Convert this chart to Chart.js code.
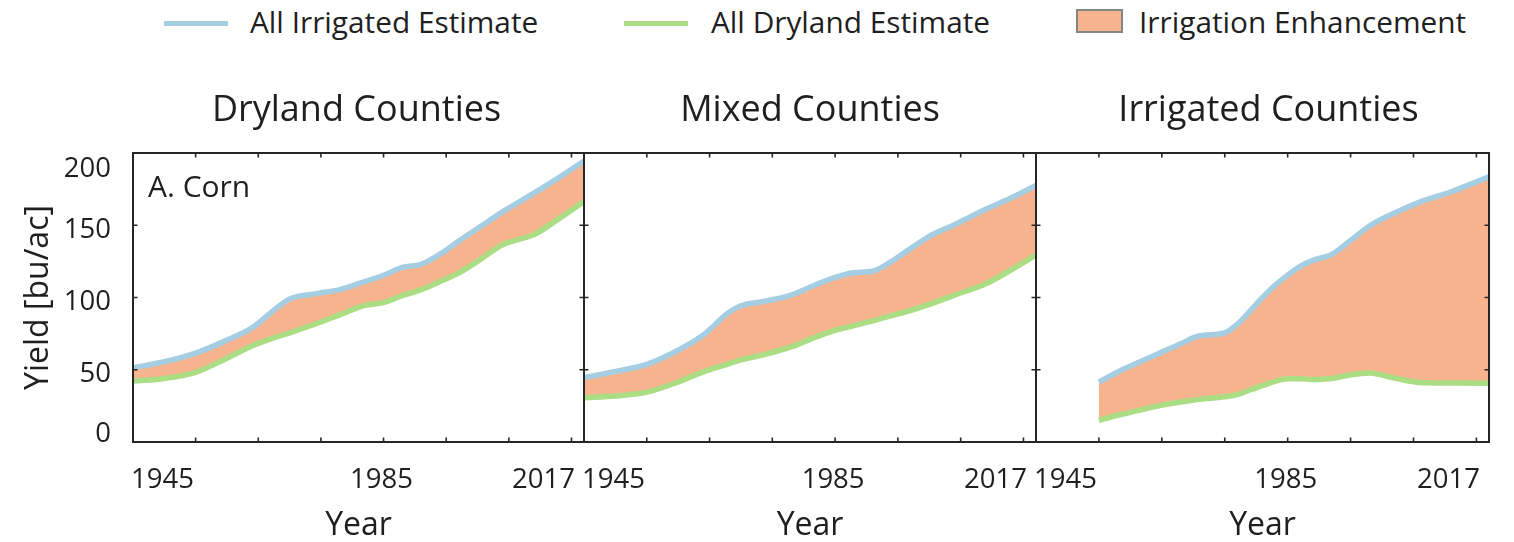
<!DOCTYPE html>
<html>
<head>
<meta charset="utf-8">
<title>Corn yield: irrigated vs dryland estimates</title>
<script src="https://cdn.jsdelivr.net/npm/chart.js@4.4.1/dist/chart.umd.min.js"></script>
<style>
  html, body { margin: 0; padding: 0; background: #fff; }
  body { width: 1514px; height: 542px; overflow: hidden; position: relative; }
  canvas { position: absolute; top: 60px; }
  .leg-text { position: absolute; top: 3px; font-family: "Open Sans", sans-serif; font-size: 29.8px; line-height: 38px; color: #1f1f1f; white-space: nowrap; }
  .leg-line { position: absolute; top: 21px; width: 64px; height: 5px; }
  .leg-box { position: absolute; top: 9px; width: 47px; height: 24px; box-sizing: border-box; border: 2px solid #858585; }
</style>
</head>
<body>
<canvas id="panel0" width="600" height="482" style="left:0px"></canvas>
<canvas id="panel1" width="500" height="482" style="left:560px"></canvas>
<canvas id="panel2" width="502" height="482" style="left:1012px"></canvas>
<script>
// ---- data -------------------------------------------------------------
const seriesNames = ['All Irrigated Estimate', 'All Dryland Estimate', 'Irrigation Enhancement'];
const panelTitles = ['Dryland Counties', 'Mixed Counties', 'Irrigated Counties'];
const cropLabel = 'A. Corn';

const xTickYears = [1945, 1955, 1965, 1975, 1985, 1995, 2005, 2015, 2017];
const xLabelYears = [1945, 1985, 2017];
const yTickValues = [0, 50, 100, 150, 200];

// Dryland counties (yield, bu/ac)
const yearsDryland = [1945, 1950, 1955, 1960, 1964, 1968, 1970, 1974, 1978, 1982, 1985, 1988, 1991, 1994, 1997, 2000, 2004, 2009, 2013, 2017];
const drylandAllIrrigated = [51.4, 55.5, 61.5, 70.5, 79, 93, 99, 102.5, 105.5, 111, 115.4, 120.8, 123, 130, 139, 147.7, 159.3, 172.2, 183, 194.5];
const drylandAllDryland   = [42.2, 44, 48.2, 58, 66.5, 72.8, 75.5, 81.5, 88, 94.5, 96.5, 101.3, 105.5, 111, 117, 125, 136.5, 143.5, 154.5, 166.5];

// Mixed counties
const yearsMixed = [1945, 1950, 1955, 1960, 1964, 1968, 1970, 1974, 1978, 1982, 1985, 1988, 1991, 1994, 1997, 2000, 2004, 2009, 2013, 2017];
const mixedAllIrrigated = [44.5, 48.8, 53.7, 63.5, 74, 89.5, 94.3, 97.6, 101.7, 109, 114, 117.2, 118.2, 125, 133.8, 142.3, 150.4, 161, 168.8, 177.5];
const mixedAllDryland   = [30.7, 31.8, 34.5, 41.5, 48.5, 54, 56.8, 60.8, 65.8, 72.8, 77.3, 80.5, 83.8, 87.5, 91, 95.2, 101.6, 109.5, 119, 129.3];

// Irrigated counties
const yearsIrrigated = [1955, 1958, 1961, 1965, 1968, 1971, 1975, 1977, 1979, 1981, 1983, 1985, 1987, 1989, 1992, 1995, 1998, 2002, 2006, 2011, 2017];
const irrigatedAllIrrigated = [41.5, 48.5, 54.5, 62.2, 68, 73.5, 75.5, 81.5, 90.5, 100, 108.5, 115.5, 121.5, 125.7, 129.8, 139.5, 149.5, 158.5, 166, 173.2, 183.5];
const irrigatedAllDryland   = [15, 18.5, 21.5, 25.5, 27.7, 29.5, 31.3, 32.8, 36, 39, 42, 43.8, 43.7, 43.3, 44, 46.5, 47.8, 44.2, 41.2, 40.8, 40.6];

// ---- styling ----------------------------------------------------------
const FONT = '"Open Sans", "DejaVu Sans", sans-serif';
const TEXT_COLOR = '#1f1f1f';
const AXIS_COLOR = '#262626';
const IRR_COLOR = 'rgb(166, 206, 227)';
const DRY_COLOR = 'rgb(171, 221, 133)';
const GAIN_COLOR = 'rgb(247, 180, 143)';
const LINE_WIDTH = 5.5;

// ---- legend (shared by the three panels) ------------------------------
function addLegend() {
  const items = [
    { kind: 'line', color: IRR_COLOR, swatchLeft: 164, textLeft: 250, text: seriesNames[0] },
    { kind: 'line', color: DRY_COLOR, swatchLeft: 624, textLeft: 711, text: seriesNames[1] },
    { kind: 'box',  color: GAIN_COLOR, swatchLeft: 1076, textLeft: 1139, text: seriesNames[2] }
  ];
  items.forEach(it => {
    const sw = document.createElement('div');
    sw.className = it.kind === 'line' ? 'leg-line' : 'leg-box';
    sw.style.left = it.swatchLeft + 'px';
    sw.style.background = it.color;
    document.body.appendChild(sw);
    const tx = document.createElement('div');
    tx.className = 'leg-text';
    tx.style.left = it.textLeft + 'px';
    tx.textContent = it.text;
    document.body.appendChild(tx);
  });
}
addLegend();

// ---- plugins ----------------------------------------------------------
// Box frame with inward-pointing tick marks on all four sides.
const frameTicks = {
  id: 'frameTicks',
  afterDatasetsDraw(chart) {
    const { ctx, chartArea: a } = chart;
    const xs = chart.scales.x, ys = chart.scales.y;
    const len = 4.5;
    ctx.save();
    ctx.strokeStyle = AXIS_COLOR;
    ctx.lineWidth = 1.6;
    ctx.beginPath();
    xs.ticks.forEach(t => {
      if (t.value <= xs.min || t.value >= xs.max) return;
      const px = xs.getPixelForValue(t.value);
      ctx.moveTo(px, a.bottom); ctx.lineTo(px, a.bottom - len);
      ctx.moveTo(px, a.top); ctx.lineTo(px, a.top + len);
    });
    ys.ticks.forEach(t => {
      if (t.value <= ys.min || t.value >= ys.max) return;
      const py = ys.getPixelForValue(t.value);
      ctx.moveTo(a.left, py); ctx.lineTo(a.left + len, py);
      ctx.moveTo(a.right, py); ctx.lineTo(a.right - len, py);
    });
    ctx.stroke();
    ctx.lineWidth = 2;
    ctx.strokeRect(a.left, a.top, a.right - a.left, a.bottom - a.top);
    ctx.restore();
  }
};

// Crop name written in the top-left corner of the first panel.
const cropTag = {
  id: 'cropTag',
  afterDraw(chart, args, opts) {
    if (!opts.text) return;
    const { ctx, chartArea: a } = chart;
    ctx.save();
    ctx.font = '30px ' + FONT;
    ctx.fillStyle = TEXT_COLOR;
    ctx.textBaseline = 'alphabetic';
    ctx.textAlign = 'left';
    ctx.fillText(opts.text, a.left + 15, a.top + 44);
    ctx.restore();
  }
};

// Small horizontal nudge of a panel title.
const titleNudge = {
  id: 'titleNudge',
  afterLayout(chart, args, opts) {
    const tb = chart.titleBlock;
    if (tb && opts.dx) { tb.left += opts.dx; tb.right += opts.dx; }
  }
};

// ---- panels -----------------------------------------------------------
const panels = [
  { id: 'panel0', years: yearsDryland, irr: drylandAllIrrigated, dry: drylandAllDryland, showY: true,  pad: { left: 0,  right: 16 }, tag: cropLabel, titleDx: -2 },
  { id: 'panel1', years: yearsMixed, irr: mixedAllIrrigated, dry: mixedAllDryland, showY: false, pad: { left: 24, right: 24 }, tag: '', titleDx: 0 },
  { id: 'panel2', years: yearsIrrigated, irr: irrigatedAllIrrigated, dry: irrigatedAllDryland, showY: false, pad: { left: 24, right: 25 }, tag: '', titleDx: 6 }
];

const toPoints = (xs, ys) => xs.map((x, i) => ({ x: x, y: ys[i] }));

panels.forEach((p, i) => {
  new Chart(document.getElementById(p.id), {
    type: 'line',
    data: {
      datasets: [
        {
          label: seriesNames[0],
          data: toPoints(p.years, p.irr),
          borderColor: IRR_COLOR,
          backgroundColor: GAIN_COLOR,
          borderWidth: LINE_WIDTH,
          pointRadius: 0,
          fill: '+1',
          cubicInterpolationMode: 'monotone'
        },
        {
          label: seriesNames[1],
          data: toPoints(p.years, p.dry),
          borderColor: DRY_COLOR,
          borderWidth: LINE_WIDTH,
          pointRadius: 0,
          fill: false,
          cubicInterpolationMode: 'monotone'
        }
      ]
    },
    options: {
      responsive: false,
      animation: false,
      devicePixelRatio: 1,
      events: [],
      layout: { padding: { left: p.pad.left, right: p.pad.right, top: 0, bottom: 0 } },
      plugins: {
        legend: { display: false },
        tooltip: { enabled: false },
        filler: { drawTime: 'beforeDatasetsDraw' },
        title: {
          display: true,
          text: panelTitles[i],
          fullSize: false,
          color: TEXT_COLOR,
          font: { family: FONT, size: 36, weight: 'normal', lineHeight: 1.2 },
          padding: { top: 29.4, bottom: 20.4 }
        },
        cropTag: { text: p.tag },
        titleNudge: { dx: p.titleDx }
      },
      scales: {
        x: {
          type: 'linear',
          min: 1945,
          max: 2017,
          grid: { display: false, drawTicks: false },
          border: { display: false },
          afterBuildTicks: s => { s.ticks = xTickYears.map(v => ({ value: v })); },
          afterFit: s => { s.height = 100; s.paddingLeft = 0; s.paddingRight = 0; },
          ticks: {
            autoSkip: false,
            maxRotation: 0,
            align: 'inner',
            labelOffset: -2,
            padding: 21.5,
            color: TEXT_COLOR,
            font: { family: FONT, size: 27.5, lineHeight: 1.2 },
            // the closing year keeps a little gap from the next panel's first year
            callback: v => (v === 2017 ? String(v) + '\u00A0' : xLabelYears.includes(v) ? String(v) : '')
          },
          title: {
            display: true,
            text: 'Year',
            color: TEXT_COLOR,
            font: { family: FONT, size: 32, lineHeight: 1.0 },
            padding: { top: 0, bottom: 0.6 }
          }
        },
        y: {
          display: p.showY,
          min: 0,
          max: 200,
          grid: { display: false, drawTicks: false },
          border: { display: false },
          afterBuildTicks: s => { s.ticks = yTickValues.map(v => ({ value: v })); },
          afterFit: s => { if (p.showY) { s.width = 133; } s.paddingTop = 0; s.paddingBottom = 0; },
          ticks: {
            padding: 22,
            labelOffset: 4.5,
            color: TEXT_COLOR,
            font: { family: FONT, size: 27.5, lineHeight: 0.88 },
            // end labels are kept inside the frame
            callback: v => (v === 200 ? ['', String(v)] : v === 0 ? [String(v), ''] : String(v))
          },
          title: {
            display: p.showY,
            text: 'Yield [bu/ac]',
            color: TEXT_COLOR,
            font: { family: FONT, size: 32, lineHeight: 1.2 },
            padding: { top: 20, bottom: 0 }
          }
        }
      }
    },
    plugins: [frameTicks, cropTag, titleNudge]
  });
});
</script>
</body>
</html>
